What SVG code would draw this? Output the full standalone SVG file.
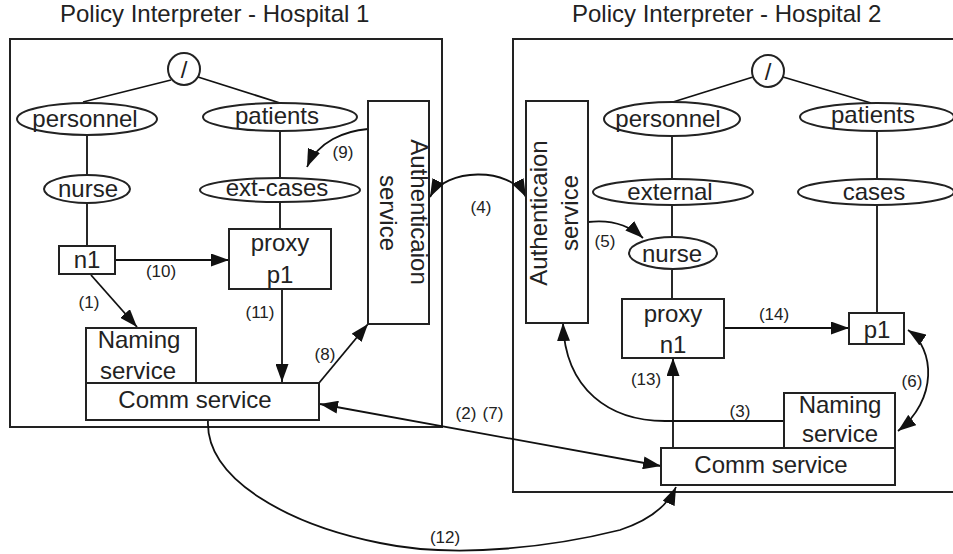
<svg xmlns="http://www.w3.org/2000/svg" width="953" height="554" viewBox="0 0 953 554">
<defs>
<marker id="ah" viewBox="0 0 18 13" refX="18" refY="6.5" markerWidth="18" markerHeight="13" markerUnits="userSpaceOnUse" orient="auto-start-reverse">
<path d="M0,0 L18,6.5 L0,13 Z" fill="#111"/>
</marker>
</defs>
<style>
text{font-family:"Liberation Sans",Arial,Helvetica,sans-serif;fill:#222;}
.t{font-size:24px;text-anchor:middle;}
.l{font-size:17px;text-anchor:middle;}
.title{font-size:24px;}
.box{fill:#fff;stroke:#222;stroke-width:2;}
.frame{fill:none;stroke:#222;stroke-width:2;}
.ln{fill:none;stroke:#111;stroke-width:1.8;}
.ar{fill:none;stroke:#111;stroke-width:1.8;marker-end:url(#ah);}
.ar2{fill:none;stroke:#111;stroke-width:1.8;marker-end:url(#ah);marker-start:url(#ah);}
</style>
<rect width="953" height="554" fill="#fff"/>

<g id="hospital1">
<text class="title" x="60" y="22">Policy Interpreter - Hospital 1</text>
<rect class="frame" x="10" y="39" width="432" height="388"/>
</g>
<g id="hospital2">
<text class="title" x="572" y="22">Policy Interpreter - Hospital 2</text>
<path class="frame" d="M960,39 H513 V492 H960"/>
</g>

<g id="connectors">
<!-- tree lines left -->
<path class="ln" d="M171,80 L83,102"/>
<path class="ln" d="M198,77 L280,103"/>
<path class="ln" d="M87,136 V175"/>
<path class="ln" d="M280,131 V178"/>
<path class="ln" d="M87,203 V246"/>
<path class="ln" d="M280,202 V229"/>
<!-- tree lines right -->
<path class="ln" d="M753,77 L673,102"/>
<path class="ln" d="M783,77 L871,103"/>
<path class="ln" d="M672,136 V179"/>
<path class="ln" d="M877,131 V179"/>
<path class="ln" d="M672,205 V236"/>
<path class="ln" d="M877,205 V313"/>
<path class="ln" d="M672,270 V299"/>
<!-- left arrows -->
<path class="ar" d="M115,260 H229"/>
<path class="ar" d="M91,275 L137,327"/>
<path class="ar" d="M282,289 V382"/>
<path class="ar" d="M319,383 L368,324"/>
<path class="ar" d="M368,129 C345,131 318,141 307,167"/>
<!-- cross -->
<path class="ar2" d="M430,197 C445,168 510,166 526,197"/>
<path class="ar2" d="M320,404 L661,466"/>
<path class="ar" d="M208,420 C205,480 290,525 380,543 C460,560 560,545 620,530 C650,520 668,505 676,487"/>
<!-- right arrows -->
<path class="ar" d="M588,222 C612,219 630,226 643,238"/>
<path class="ar" d="M724,328 H849"/>
<path class="ar" d="M673,448 V358"/>
<path class="ar" d="M784,421 H665 C610,421 565,390 563,323"/>
<path class="ar2" d="M908,330 C935,348 938,400 898,431"/>
</g>

<g id="labels">
<text class="l" x="161" y="277">(10)</text>
<text class="l" x="89" y="308">(1)</text>
<text class="l" x="260" y="318">(11)</text>
<text class="l" x="325" y="360">(8)</text>
<text class="l" x="343" y="158">(9)</text>
<text class="l" x="481" y="213">(4)</text>
<text class="l" x="466" y="419">(2)</text>
<text class="l" x="493" y="419">(7)</text>
<text class="l" x="445" y="543">(12)</text>
<text class="l" x="605" y="247">(5)</text>
<text class="l" x="774" y="320">(14)</text>
<text class="l" x="646" y="385">(13)</text>
<text class="l" x="740" y="417">(3)</text>
<text class="l" x="912" y="387">(6)</text>
</g>

<g id="root1"><circle class="box" cx="184" cy="69" r="16"/><text class="t" x="184" y="78">/</text></g>
<g id="personnel1"><ellipse class="box" cx="87" cy="119" rx="70" ry="16"/><text class="t" x="85" y="127">personnel</text></g>
<g id="patients1"><ellipse class="box" cx="280" cy="117" rx="77" ry="14"/><text class="t" x="277" y="124">patients</text></g>
<g id="nurse1"><ellipse class="box" cx="87" cy="189" rx="43" ry="14"/><text class="t" x="88" y="197">nurse</text></g>
<g id="extcases1"><ellipse class="box" cx="280" cy="190" rx="80" ry="12"/><text class="t" x="277" y="196">ext-cases</text></g>
<g id="n1"><rect class="box" x="59" y="246" width="56" height="28"/><text class="t" x="87" y="268">n1</text></g>
<g id="proxyp1"><rect class="box" x="229" y="229" width="102" height="60"/><text class="t" x="280" y="251">proxy</text><text class="t" x="280" y="283">p1</text></g>
<g id="auth1"><rect class="box" x="368" y="101" width="61" height="223"/>
<text class="t" transform="translate(411,212) rotate(90)">Authenticaion</text>
<text class="t" transform="translate(380,213) rotate(90)">service</text></g>
<g id="naming1"><rect class="box" x="86" y="328" width="110" height="55"/><text class="t" x="139" y="348">Naming</text><text class="t" x="138" y="379">service</text></g>
<g id="comm1"><rect class="box" x="86" y="383" width="233" height="37"/><text class="t" x="195" y="408">Comm service</text></g>

<g id="root2"><circle class="box" cx="768" cy="71" r="16"/><text class="t" x="768" y="80">/</text></g>
<g id="personnel2"><ellipse class="box" cx="672" cy="119" rx="68" ry="17"/><text class="t" x="668" y="127">personnel</text></g>
<g id="patients2"><ellipse class="box" cx="877" cy="117" rx="77" ry="14"/><text class="t" x="873" y="123">patients</text></g>
<g id="external2"><ellipse class="box" cx="673" cy="192" rx="80" ry="13"/><text class="t" x="670" y="200">external</text></g>
<g id="cases2"><ellipse class="box" cx="876" cy="192" rx="78" ry="13"/><text class="t" x="874" y="200">cases</text></g>
<g id="nurse2"><ellipse class="box" cx="673" cy="253" rx="44" ry="16"/><text class="t" x="672" y="262">nurse</text></g>
<g id="auth2"><rect class="box" x="526" y="101" width="62" height="222"/>
<text class="t" transform="translate(547,213) rotate(-90)">Authenticaion</text>
<text class="t" transform="translate(578,213) rotate(-90)">service</text></g>
<g id="proxyn1"><rect class="box" x="622" y="299" width="102" height="59"/><text class="t" x="673" y="322">proxy</text><text class="t" x="673" y="353">n1</text></g>
<g id="p1"><rect class="box" x="849" y="313" width="55" height="31"/><text class="t" x="877" y="338">p1</text></g>
<g id="naming2"><rect class="box" x="784" y="393" width="111" height="55"/><text class="t" x="840" y="413">Naming</text><text class="t" x="840" y="442">service</text></g>
<g id="comm2"><rect class="box" x="661" y="448" width="234" height="37"/><text class="t" x="771" y="473">Comm service</text></g>
</svg>
